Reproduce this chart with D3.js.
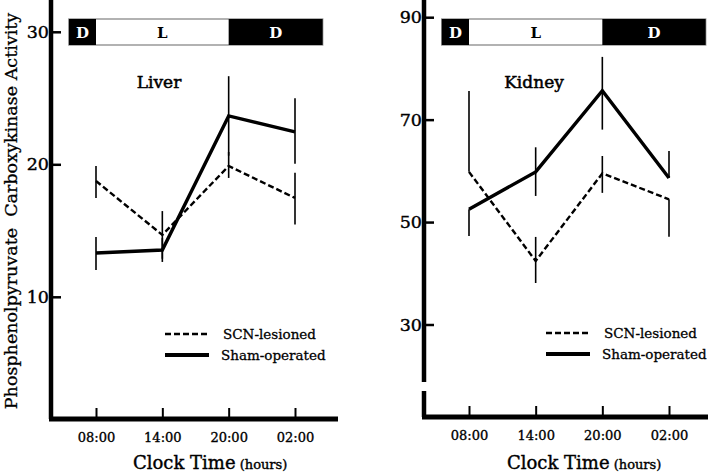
<!DOCTYPE html>
<html><head><meta charset="utf-8">
<script src="https://cdn.jsdelivr.net/npm/d3@7"></script>
<style>
html,body{margin:0;padding:0;background:#fff;}
svg{display:block;}
text{font-family:"DejaVu Serif",serif;fill:#000;}
</style></head>
<body>
<svg id="chart" width="708" height="474"></svg>
<script>
// ---------- data ----------
const timeLabels = ["08:00", "14:00", "20:00", "02:00"];
const hours = [0, 6, 12, 18]; // hours after 08:00

const liverSCN = [18.74, 14.67, 19.87, 17.46];
const liverSCNErrUp = [1.13, 1.8, 1.06, 1.9];
const liverSCNErrDown = [1.28, 1.8, 0.9, 2.0];
const liverSham = [13.31, 13.53, 23.65, 22.44];
const liverShamErrUp = [1.2, 0.9, 3.0, 2.55];
const liverShamErrDown = [1.28, 0.9, 3.0, 2.4];

const kidneySCN = [59.8, 42.4, 59.5, 54.45];
const kidneySCNErrUp = [15.8, 4.7, 3.4, 0];
const kidneySCNErrDown = [0, 4.3, 3.8, 7.3];
const kidneySham = [52.5, 59.8, 75.65, 58.6];
const kidneyShamErrUp = [0, 4.8, 6.6, 5.3];
const kidneyShamErrDown = [5.2, 4.7, 7.6, 0];

const liverTicks = [10, 20, 30];
const kidneyTicks = [30, 50, 70, 90];

const seriesNames = ["SCN-lesioned", "Sham-operated"];
const phaseLabels = ["D", "L", "D"];
const phaseStarts = [-2.45, 0, 12];
const phaseEndsLiver = [0, 12, 20.5];
const phaseEndsKidney = [0, 12, 21.3];

const yTitle = "Phosphenolpyruvate\u00A0\u00A0Carboxykinase Activity";
const xTitle = "Clock Time";
const xUnit = "(hours)";

// ---------- drawing ----------
const svg = d3.select("#chart");

const panels = [
  { name: "Liver", scn: liverSCN, scnUp: liverSCNErrUp, scnDn: liverSCNErrDown,
    sham: liverSham, shamUp: liverShamErrUp, shamDn: liverShamErrDown,
    ticks: liverTicks, phaseEnds: phaseEndsLiver,
    yDom: [10, 30], yRange: [296.8, 31.8], xRange: [96, 295],
    axisX: 51, axisTop: 0, axisBottom: 419, xAxisEnd: 338, brk: null,
    labelX: 159, legendX: 165, legendY: 334, titleX: 133 },
  { name: "Kidney", scn: kidneySCN, scnUp: kidneySCNErrUp, scnDn: kidneySCNErrDown,
    sham: kidneySham, shamUp: kidneyShamErrUp, shamDn: kidneyShamErrDown,
    ticks: kidneyTicks, phaseEnds: phaseEndsKidney,
    yDom: [30, 90], yRange: [324.5, 17.2], xRange: [469, 669],
    axisX: 424, axisTop: 0, axisBottom: 417, xAxisEnd: 708, brk: [382, 391],
    labelX: 534, legendX: 546, legendY: 333, titleX: 507 }
];

panels.forEach(p => {
  const g = svg.append("g");
  const x = d3.scaleLinear().domain([0, 18]).range(p.xRange);
  const y = d3.scaleLinear().domain(p.yDom).range(p.yRange);

  // light/dark bar
  const barTop = 19, barH = 26;
  const bar = g.append("g");
  bar.append("rect")
    .attr("x", x(phaseStarts[0])).attr("y", barTop)
    .attr("width", x(p.phaseEnds[2]) - x(phaseStarts[0])).attr("height", barH)
    .attr("fill", "#fff").attr("stroke", "#999").attr("stroke-width", 1.5);
  phaseLabels.forEach((lab, i) => {
    const x0 = x(phaseStarts[i]), x1 = x(p.phaseEnds[i]);
    if (lab === "D") {
      bar.append("rect").attr("x", x0).attr("y", barTop)
        .attr("width", x1 - x0).attr("height", barH).attr("fill", "#000");
    }
    bar.append("text").attr("x", (x0 + x1) / 2).attr("y", barTop + 19)
      .attr("text-anchor", "middle").attr("font-size", 15).attr("font-weight", "bold")
      .style("fill", lab === "D" ? "#fff" : "#000").text(lab);
  });

  // organ label
  g.append("text").attr("x", p.labelX).attr("y", 88).attr("text-anchor", "middle")
    .attr("font-size", 17).attr("stroke", "#000").attr("stroke-width", 0.5).text(p.name);

  // y axis
  const ya = g.append("g").attr("transform", `translate(${p.axisX},0)`)
    .call(d3.axisLeft(y).tickValues(p.ticks).tickSizeInner(-10).tickSizeOuter(0).tickPadding(2));
  ya.select(".domain").remove();
  ya.selectAll(".tick line").attr("stroke", "#000").attr("stroke-width", 2.5);
  ya.selectAll(".tick text").attr("font-size", 17.5).attr("font-family", "DejaVu Serif")
    .attr("stroke", "#000").attr("stroke-width", 0.4);

  // y axis line (with optional break)
  if (p.brk) {
    g.append("line").attr("x1", p.axisX).attr("x2", p.axisX)
      .attr("y1", p.axisTop).attr("y2", p.brk[0]).attr("stroke", "#000").attr("stroke-width", 4.5);
    g.append("line").attr("x1", p.axisX).attr("x2", p.axisX)
      .attr("y1", p.brk[1]).attr("y2", p.axisBottom).attr("stroke", "#000").attr("stroke-width", 4.5);
  } else {
    g.append("line").attr("x1", p.axisX).attr("x2", p.axisX)
      .attr("y1", p.axisTop).attr("y2", p.axisBottom).attr("stroke", "#000").attr("stroke-width", 4.5);
  }

  // x axis
  const xa = g.append("g").attr("transform", `translate(0,${p.axisBottom})`)
    .call(d3.axisBottom(x).tickValues(hours).tickFormat((d, i) => timeLabels[i])
      .tickSizeInner(-11).tickSizeOuter(0).tickPadding(14));
  xa.select(".domain").remove();
  xa.selectAll(".tick line").attr("stroke", "#000").attr("stroke-width", 2);
  xa.selectAll(".tick text").attr("font-size", 13).attr("font-family", "DejaVu Serif")
    .attr("stroke", "#000").attr("stroke-width", 0.35);
  g.append("line").attr("x1", p.axisX - 2).attr("x2", p.xAxisEnd)
    .attr("y1", p.axisBottom).attr("y2", p.axisBottom).attr("stroke", "#000").attr("stroke-width", 5);

  // x title
  const t = g.append("text").attr("x", p.titleX).attr("y", 469).attr("font-size", 18)
    .attr("stroke", "#000").attr("stroke-width", 0.4);
  t.append("tspan").text(xTitle);
  t.append("tspan").attr("font-size", 13).text(" " + xUnit);

  // error bars
  function errBars(vals, up, dn) {
    vals.forEach((v, i) => {
      const cx = x(hours[i]);
      g.append("line").attr("x1", cx).attr("x2", cx)
        .attr("y1", y(v + up[i])).attr("y2", y(v - dn[i]))
        .attr("stroke", "#000").attr("stroke-width", 1.6);
    });
  }
  errBars(p.scn, p.scnUp, p.scnDn);
  errBars(p.sham, p.shamUp, p.shamDn);

  const line = d3.line().x((d, i) => x(hours[i])).y(d => y(d));
  g.append("path").datum(p.scn).attr("d", line).attr("fill", "none")
    .attr("stroke", "#000").attr("stroke-width", 2.4).attr("stroke-dasharray", "6,3");
  g.append("path").datum(p.sham).attr("d", line).attr("fill", "none")
    .attr("stroke", "#000").attr("stroke-width", 3.4).attr("stroke-linejoin", "miter");

  // legend
  const lg = g.append("g");
  lg.append("line").attr("x1", p.legendX).attr("x2", p.legendX + 44)
    .attr("y1", p.legendY).attr("y2", p.legendY)
    .attr("stroke", "#000").attr("stroke-width", 2.4).attr("stroke-dasharray", "6,3");
  lg.append("line").attr("x1", p.legendX).attr("x2", p.legendX + 44)
    .attr("y1", p.legendY + 21).attr("y2", p.legendY + 21)
    .attr("stroke", "#000").attr("stroke-width", 4);
  lg.append("text").attr("x", p.legendX + 58).attr("y", p.legendY + 5)
    .attr("font-size", 13.5).attr("stroke", "#000").attr("stroke-width", 0.3).text(seriesNames[0]);
  lg.append("text").attr("x", p.legendX + 56).attr("y", p.legendY + 26)
    .attr("font-size", 13.5).attr("stroke", "#000").attr("stroke-width", 0.3).text(seriesNames[1]);
});

// y title
svg.append("text").attr("transform", "translate(17,211) rotate(-90)")
  .attr("text-anchor", "middle").attr("font-size", 17.5)
  .attr("stroke", "#000").attr("stroke-width", 0.3).text(yTitle);
</script>
</body></html>
